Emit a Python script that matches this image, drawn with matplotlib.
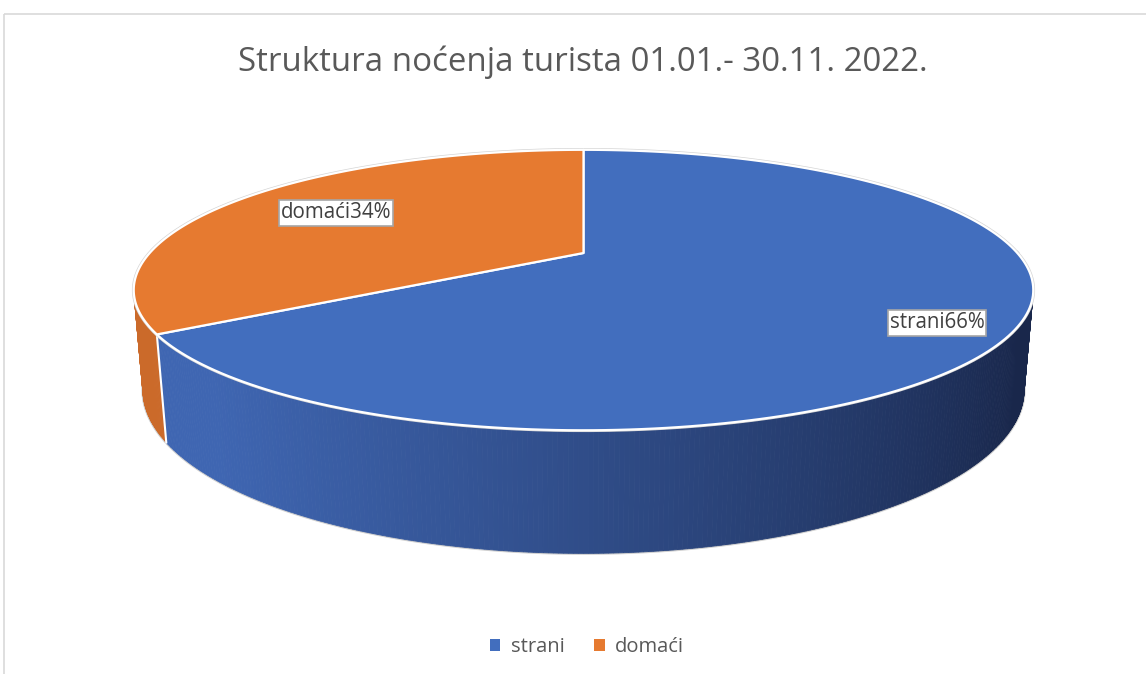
import matplotlib.pyplot as plt
import numpy as np
from matplotlib.patches import Polygon, Rectangle, Patch
from matplotlib.colors import to_rgb

# data
categories = ['strani', 'domaći']
shares = [66, 34]
labels = ['strani66%', 'domaći34%']
top_colors = ['#426EBE', '#E67A30']
side_light = ['#3F66B2', '#CB6A2A']
side_dark = ['#19274B', '#7A3A14']
title = 'Struktura noćenja turista 01.01.- 30.11. 2022.'

# perspective "3D" projection into pixel coords
W, H = 1146, 674
cx, cy = 583.5, 253.0
F, D = 1566.0, 3.61
alpha = np.radians(17.5)
depth = 0.233
sa, ca = np.sin(alpha), np.cos(alpha)


def proj(X, Y, Z):
    u = X
    v = Y * sa + Z * ca
    w = D + Y * ca - Z * sa
    return cx + F * u / w, cy - F * v / w


def blend(c1, c2, t):
    a, b = np.array(to_rgb(c1)), np.array(to_rgb(c2))
    return tuple(a * (1 - t) + b * t)


fig = plt.figure(figsize=(W / 100, H / 100), dpi=100)
ax = fig.add_axes([0, 0, 1, 1])
ax.set_xlim(0, W)
ax.set_ylim(H, 0)
ax.axis('off')

# slice angles, clockwise from 12 o'clock
total = sum(shares)
bounds = [90.0]
for s in shares:
    bounds.append(bounds[-1] - 360.0 * s / total)


def slice_of(phi):
    p = (phi - bounds[-1]) % 360 + bounds[-1]
    for i in range(len(shares)):
        if bounds[i + 1] <= p <= bounds[i]:
            return i
    return 0


# base outline (strips drawn above hide what is behind)
bt = np.radians(np.linspace(-200, 20, 300))
bx, by = proj(np.cos(bt), np.sin(bt), -depth)
ax.plot(bx, by, color='#CFCFCF', lw=2.2, zorder=0.5)

# side wall strips, far to near
phis = np.linspace(-270, 90, 721)
strips = []
for a0, a1 in zip(phis[:-1], phis[1:]):
    m = np.radians((a0 + a1) / 2)
    i = slice_of((a0 + a1) / 2)
    r0, r1 = np.radians(a0), np.radians(a1)
    pts = [proj(np.cos(r0), np.sin(r0), 0), proj(np.cos(r1), np.sin(r1), 0),
           proj(np.cos(r1), np.sin(r1), -depth), proj(np.cos(r0), np.sin(r0), -depth)]
    t = np.clip(0.5 + 0.62 * np.cos(m) + 0.1 * np.sin(m), 0, 1)
    col = blend(side_light[i], side_dark[i], t)
    strips.append((np.sin(m), pts, col))
strips.sort(key=lambda s: -s[0])
for _, pts, col in strips:
    ax.add_patch(Polygon(pts, closed=True, fc=col, ec=col, lw=0.6, zorder=1))

# white divider on the side wall
for b in bounds:
    r = np.radians(b)
    if np.sin(r) < 0:
        x0, y0 = proj(np.cos(r), np.sin(r), 0)
        x1, y1 = proj(np.cos(r), np.sin(r), -depth)
        ax.plot([x0, x1], [y0, y1], color='white', lw=1.5, zorder=1.5)

# top face outline + wedges
tt = np.radians(np.linspace(0, 360, 400))
ox, oy = proj(np.cos(tt), np.sin(tt), 0)
ax.plot(ox, oy, color='#D5D5D5', lw=2.6, zorder=1.8)
for i in range(len(shares)):
    t = np.radians(np.linspace(bounds[i], bounds[i + 1], 200))
    xs, ys = proj(np.cos(t), np.sin(t), 0)
    c0 = proj(0, 0, 0)
    pts = [c0] + list(zip(xs, ys))
    ax.add_patch(Polygon(pts, closed=True, fc=top_colors[i], ec='white', lw=1.6,
                         joinstyle='round', zorder=2))

# data labels
lab_pos = [(937, 323), (336, 213)]
for (x, y), txt in zip(lab_pos, labels):
    ax.text(x, y, txt, ha='center', va='center', fontsize=14.8, color='#404040',
            family='Open Sans', zorder=3,
            bbox=dict(boxstyle='square,pad=0.1', fc='white', ec='#A6A6A6', lw=1.2))

ax.text(583, 62, title, ha='center', va='center', fontsize=23.8,
        color='#595959', family='Open Sans')

# chart border
ax.add_patch(Rectangle((3.5, 13.5), W + 20, H + 20, fill=False, ec='#D9D9D9', lw=1.2))

handles = [Patch(fc=c, ec='none') for c in top_colors]
ax.legend(handles, categories, loc='center', bbox_to_anchor=(587 / W, 1 - 647 / H),
          ncol=2, frameon=False, handlelength=0.5, handleheight=0.5,
          handletextpad=0.5, columnspacing=1.5,
          prop={'family': 'Open Sans', 'size': 14.5}, labelcolor='#595959')

fig.savefig('out.png', dpi=100)
